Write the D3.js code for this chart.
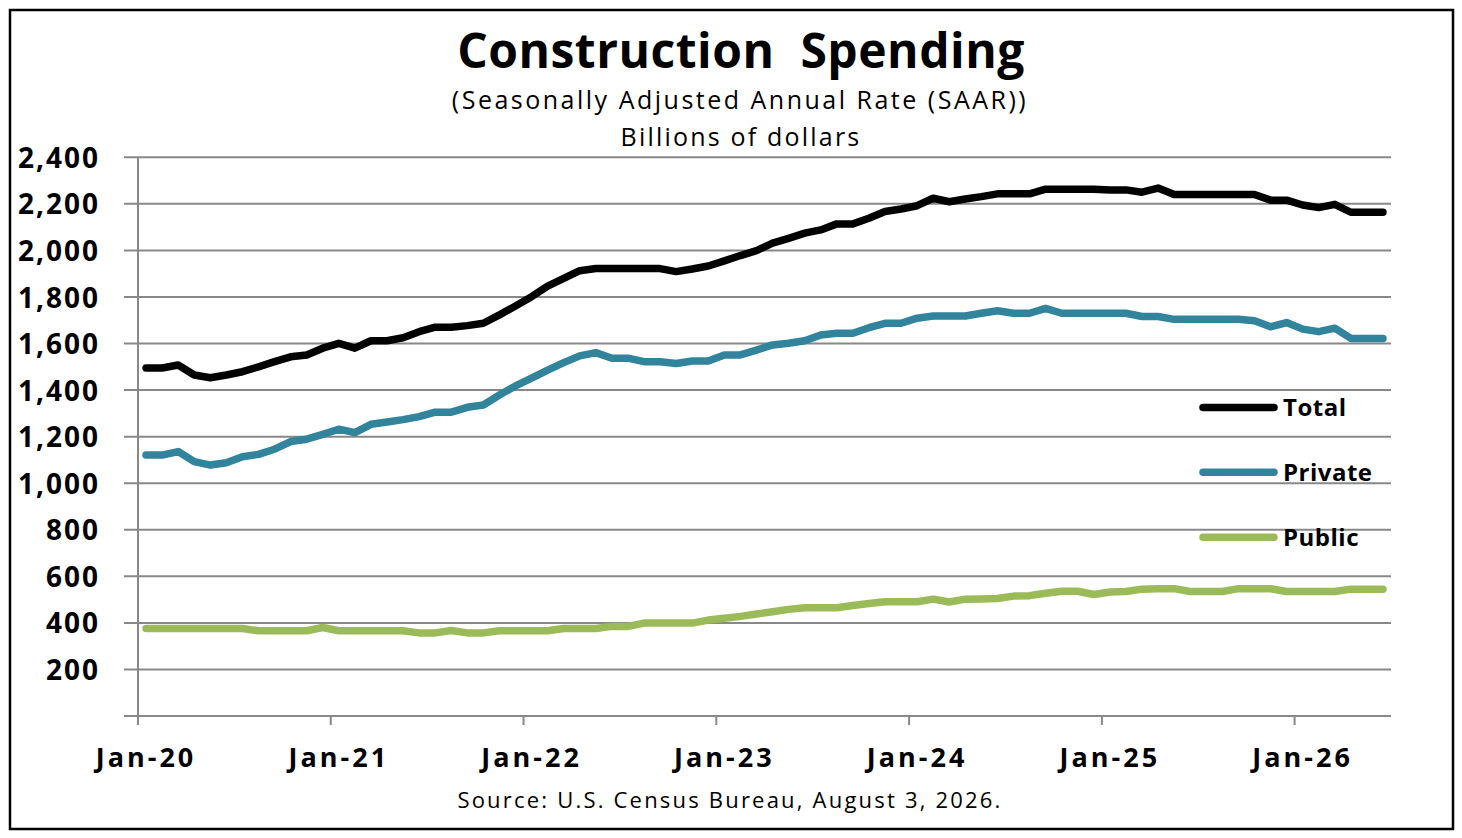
<!DOCTYPE html>
<html>
<head>
<meta charset="utf-8">
<script src="https://cdn.jsdelivr.net/npm/d3@7"></script>
<style>
  body { margin: 0; background: #fff; }
  text { font-family: "Open Sans", sans-serif; fill: #000; }
</style>
</head>
<body>
<div id="chart"></div>
<script>
// monthly values, Jan-20 .. Jun-26 (billions of dollars, SAAR)
var totalValues = [
  1495, 1495, 1508, 1465, 1453, 1465, 1479, 1500, 1522, 1543, 1551, 1580,
  1601, 1580, 1612, 1612, 1625, 1651, 1670, 1670, 1677, 1687, 1723, 1761,
  1801, 1847, 1880, 1913, 1922, 1922, 1922, 1922, 1922, 1909, 1920, 1933,
  1955, 1978, 1999, 2031, 2052, 2074, 2088, 2114, 2114, 2138, 2167, 2178,
  2192, 2224, 2209, 2221, 2231, 2243, 2243, 2243, 2263, 2263, 2263, 2263,
  2260, 2260, 2250, 2268, 2240, 2240, 2240, 2240, 2240, 2240, 2216, 2216,
  2195, 2184, 2198, 2164, 2164, 2164
];
var privateValues = [
  1121, 1121, 1136, 1093, 1078, 1088, 1114, 1124, 1146, 1179, 1189, 1210,
  1232, 1217, 1253, 1263, 1273, 1286, 1305, 1305, 1326, 1336, 1379, 1418,
  1451, 1486, 1518, 1547, 1561, 1537, 1537, 1522, 1522, 1514, 1525, 1525,
  1551, 1551, 1572, 1594, 1601, 1612, 1637, 1644, 1644, 1668, 1687, 1687,
  1709, 1718, 1718, 1718, 1730, 1741, 1730, 1730, 1751, 1730, 1730, 1730,
  1730, 1730, 1716, 1716, 1704, 1704, 1704, 1704, 1704, 1698, 1672, 1690,
  1662, 1651, 1666, 1622, 1622, 1622
];
var publicValues = [
  376, 376, 376, 376, 376, 376, 376, 366, 366, 366, 366, 380,
  366, 366, 366, 366, 366, 357, 357, 367, 357, 357, 366, 366,
  366, 366, 376, 376, 376, 385, 385, 399, 399, 399, 399, 412,
  420, 428, 438, 448, 458, 465, 465, 465, 475, 483, 491, 491,
  491, 502, 490, 502, 503, 505, 515, 517, 527, 536, 536, 522,
  533, 535, 545, 547, 547, 535, 535, 535, 547, 547, 547, 535,
  535, 535, 535, 545, 545, 545
];
var seriesNames = ["Total", "Private", "Public"];
var seriesColors = ["#000000", "#31849b", "#9bbb59"];
var yTicks = [0, 200, 400, 600, 800, 1000, 1200, 1400, 1600, 1800, 2000, 2200, 2400];
var xTickLabels = ["Jan-20", "Jan-21", "Jan-22", "Jan-23", "Jan-24", "Jan-25", "Jan-26"];

// month categories
var fmt = d3.timeFormat("%b-%y");
var months = d3.timeMonth.range(new Date(2020, 0, 1), new Date(2026, 6, 1)).map(fmt);

var width = 1462, height = 838;
var plotLeft = 138, plotRight = 1391, plotTop = 157.3, plotBottom = 716;

var svg = d3.select("#chart").append("svg")
    .attr("width", width)
    .attr("height", height);

// outer frame
svg.append("rect")
    .attr("x", 10).attr("y", 10)
    .attr("width", 1443).attr("height", 819)
    .attr("fill", "none")
    .attr("stroke", "#000")
    .attr("stroke-width", 2.5);

// titles
svg.append("text")
    .attr("x", 741).attr("y", 68)
    .attr("text-anchor", "middle")
    .style("font-size", "48px").style("font-weight", "bold")
    .style("letter-spacing", "0.5px")
    .attr("xml:space", "preserve")
    .text("Construction  Spending");
svg.append("text")
    .attr("x", 740).attr("y", 109)
    .attr("text-anchor", "middle")
    .style("font-size", "25px")
    .style("letter-spacing", "2.5px")
    .text("(Seasonally Adjusted Annual Rate (SAAR))");
svg.append("text")
    .attr("x", 741).attr("y", 146)
    .attr("text-anchor", "middle")
    .style("font-size", "25px")
    .style("letter-spacing", "2.2px")
    .text("Billions of dollars");

// scales
var x = d3.scaleBand().domain(months).range([plotLeft, plotRight]);
var y = d3.scaleLinear().domain([0, 2400]).range([plotBottom, plotTop]);
var bw = x.bandwidth();

// gridlines
svg.append("g").selectAll("line")
    .data(yTicks)
  .enter().append("line")
    .attr("x1", plotLeft - 14).attr("x2", plotRight)
    .attr("y1", function(d) { return y(d); })
    .attr("y2", function(d) { return y(d); })
    .attr("stroke", "#888")
    .attr("stroke-width", 2);

// y axis
var yAxis = svg.append("g")
    .attr("transform", "translate(" + plotLeft + ",0)")
    .call(d3.axisLeft(y).tickValues(yTicks).tickSize(0).tickPadding(38)
      .tickFormat(function(d) { return d === 0 ? "" : d3.format(",")(d); }));
yAxis.select(".domain").remove();
yAxis.selectAll("text")
    .attr("dy", "0.36em")
    .style("font-family", "'Open Sans', sans-serif")
    .style("font-size", "28px").style("font-weight", "bold")
    .style("letter-spacing", "2px")
    .attr("fill", "#000");

svg.append("line")
    .attr("x1", plotLeft).attr("x2", plotLeft)
    .attr("y1", y(2400)).attr("y2", plotBottom + 9)
    .attr("stroke", "#888").attr("stroke-width", 2);

// x axis ticks at start of each January, labels centred on the month
svg.append("g").selectAll("line")
    .data(xTickLabels)
  .enter().append("line")
    .attr("x1", function(d) { return x(d); })
    .attr("x2", function(d) { return x(d); })
    .attr("y1", plotBottom).attr("y2", plotBottom + 9)
    .attr("stroke", "#888").attr("stroke-width", 2);

var xAxis = svg.append("g")
    .attr("transform", "translate(0," + plotBottom + ")")
    .call(d3.axisBottom(x).tickValues(xTickLabels).tickSize(0).tickPadding(32));
xAxis.select(".domain").remove();
xAxis.selectAll("text")
    .style("font-family", "'Open Sans', sans-serif")
    .style("font-size", "27px").style("font-weight", "bold")
    .style("letter-spacing", "3px")
    .attr("fill", "#000");

// lines
var line = d3.line()
    .x(function(d, i) { return x(months[i]) + bw / 2; })
    .y(function(d) { return y(d); });

var allSeries = [totalValues, privateValues, publicValues];
svg.append("g").selectAll("path")
    .data(allSeries)
  .enter().append("path")
    .attr("d", line)
    .attr("fill", "none")
    .attr("stroke", function(d, i) { return seriesColors[i]; })
    .attr("stroke-width", 7.5)
    .attr("stroke-linejoin", "round")
    .attr("stroke-linecap", "round");

// legend
var legendY = [407.5, 472.3, 537.3];
var legend = svg.append("g").selectAll("g")
    .data(seriesNames)
  .enter().append("g")
    .attr("transform", function(d, i) { return "translate(1203," + legendY[i] + ")"; });
legend.append("line")
    .attr("x1", 0).attr("x2", 71)
    .attr("stroke", function(d, i) { return seriesColors[i]; })
    .attr("stroke-width", 7.5)
    .attr("stroke-linecap", "round");
legend.append("text")
    .attr("x", 80).attr("dy", "0.36em")
    .style("font-size", "24px").style("font-weight", "bold")
    .style("letter-spacing", "0.5px")
    .text(function(d) { return d; });

// source
svg.append("text")
    .attr("x", 730).attr("y", 808)
    .attr("text-anchor", "middle")
    .style("font-size", "22px")
    .style("letter-spacing", "2.2px")
    .text("Source: U.S. Census Bureau, August 3, 2026.");
</script>
</body>
</html>
